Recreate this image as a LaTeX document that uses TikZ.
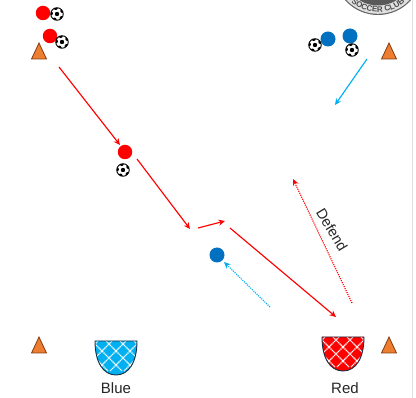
\documentclass[tikz,border=0pt]{standalone}
\usepackage{fontspec}
\setmainfont{Liberation Sans}
\usetikzlibrary{arrows.meta,decorations.text,shapes.geometric}
\definecolor{rd}{RGB}{255,0,0}
\definecolor{bl}{RGB}{0,112,192}
\definecolor{cy}{RGB}{0,176,240}
\definecolor{cone}{RGB}{237,125,49}
\definecolor{conee}{RGB}{132,60,12}
\definecolor{navy}{RGB}{25,45,65}
\tikzset{
 x=1pt,y=-1pt,
 redp/.style={circle,fill=rd,minimum size=14.5pt,inner sep=0},
 bluep/.style={circle,fill=bl,minimum size=15pt,inner sep=0},
 ballnode/.style={circle,draw=black,line width=0.9pt,fill=white,minimum size=12.5pt,inner sep=0,
   path picture={\fill[black] (path picture bounding box.center) circle (2.2pt);
     \foreach \a in {30,102,174,246,318}{\fill[black] (path picture bounding box.center)++(\a:6.2pt) circle (2.1pt);}}},
 conenode/.style={draw=conee,fill=cone,line width=0.8pt},
 redarrow/.style={draw=rd,line width=1.15pt,-{Stealth[length=6.5pt,width=6pt]}},
 cyanarrow/.style={draw=cy,line width=1.15pt,-{Stealth[length=6.5pt,width=6pt]}},
 reddots/.style={draw=rd,line width=1.15pt,dash pattern=on 1.1pt off 1.1pt,-{Stealth[length=6.5pt,width=6pt]}},
 cyandots/.style={draw=cy,line width=1.15pt,dash pattern=on 1.1pt off 1.1pt,-{Stealth[length=6.5pt,width=6pt]}},
 lab/.style={inner sep=0,font=\fontsize{15}{17}\selectfont,text=black!85},
 goalline/.style={draw=navy,line width=0.9pt},
 netline/.style={draw=white,line width=1.1pt,dash pattern=on 1.2pt off 0.6pt},
}
\newcommand{\conepic}[2]{\path[conenode] (#1-7.5,#2+8) -- (#1,#2-8) -- (#1+7.5,#2+8) -- cycle;}
\newcommand{\goalpic}[3]{%
 \begin{scope}
 \clip (#1-21,#2-17) -- (#1+21,#2-17) .. controls (#1+21,#2+4) and (#1+13,#2+17) .. (#1,#2+17) .. controls (#1-13,#2+17) and (#1-21,#2+4) .. (#1-21,#2-17) -- cycle;
 \fill[#3] (#1-22,#2-18) rectangle (#1+22,#2+18);
 \foreach \d in {-56,-42,-28,-14,0,14,28,42,56}{
  \draw[netline] (#1+\d-20,#2-27) -- (#1+\d+20,#2+13);
  \draw[netline] (#1+\d+20,#2-27) -- (#1+\d-20,#2+13);
 }
 \end{scope}
 \draw[goalline] (#1-21,#2-17) -- (#1+21,#2-17) .. controls (#1+21,#2+4) and (#1+13,#2+17) .. (#1,#2+17) .. controls (#1-13,#2+17) and (#1-21,#2+4) .. (#1-21,#2-17) -- cycle;}
\begin{document}
\begin{tikzpicture}
\useasboundingbox (0,0) rectangle (416,398);
\fill[white] (0,0) rectangle (416,398);
\draw[black!12,line width=0.6pt] (412.5,0) -- (412.5,398);
% logo
\begin{scope}
 \clip (0,0) rectangle (416,398);
 \coordinate (logoc) at (378,-29);
 \fill[black!60] (logoc) circle (44pt);
 \fill[black!12] (logoc) circle (42.8pt);
 \fill[black!65] (logoc) circle (34.5pt);
 \path[postaction={decorate,decoration={text along path,text align=center,
   text={|\fontsize{8}{9}\selectfont\bfseries\color{black!70}|SOCCER CLUB}}}]
   (logoc) ++(222:41pt) arc[start angle=222,end angle=318,radius=41pt];
\end{scope}
% cones
\conepic{39}{51}
\conepic{389}{51}
\conepic{39}{345}
\conepic{389}{345}
% goals
\goalpic{116}{358}{cy}
\goalpic{343}{354}{rd}
\node[lab] (bluelab) at (116,388) {Blue};
\node[lab] (redlab) at (345,388) {Red};
% players and balls
\node[redp] (r1) at (43,13) {};
\node[redp] (r2) at (50,36) {};
\node[redp] (r3) at (125,152) {};
\node[bluep] (b1) at (328,39) {};
\node[bluep] (b2) at (350,36) {};
\node[bluep] (b3) at (217,255) {};
\node[ballnode] (ball1) at (57,14) {};
\node[ballnode] (ball2) at (62,42) {};
\node[ballnode] (ball3) at (123,170) {};
\node[ballnode] (ball4) at (315,45) {};
\node[ballnode] (ball5) at (352,50) {};
% connector ends
\coordinate (a1) at (59,67);
\coordinate (a2) at (120,145);
\coordinate (c1) at (137,159);
\coordinate (c2) at (190,229);
\coordinate (d1) at (198,228);
\coordinate (d2) at (225,221);
\coordinate (e1) at (230,228);
\coordinate (e2) at (336,317);
\coordinate (f1) at (367,59);
\coordinate (f2) at (335,105);
\coordinate (g1) at (352,303);
\coordinate (g2) at (293,179);
\coordinate (h1) at (270,307);
\coordinate (h2) at (224,262);
\draw[redarrow] (a1) -- (a2);
\draw[redarrow] (c1) -- (c2);
\draw[redarrow] (d1) -- (d2);
\draw[redarrow] (e1) -- (e2);
\draw[cyanarrow] (f1) -- (f2);
\draw[reddots] (g1) -- (g2);
\draw[cyandots] (h1) -- (h2);
\node[lab,rotate=-59,font=\fontsize{14.5}{17}\selectfont] (defend) at (332,230) {Defend};
\end{tikzpicture}
\end{document}
